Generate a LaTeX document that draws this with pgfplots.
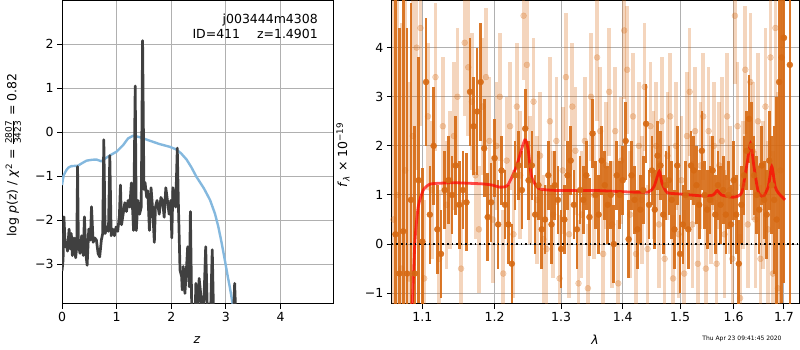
\documentclass[border=0pt]{standalone}
\usepackage{pgfplots}
\pgfplotsset{compat=1.18}
\usepackage{fontspec}
\setmainfont{DejaVu Sans}
\definecolor{dorange}{RGB}{214,105,18}
\definecolor{mblue}{RGB}{132,184,222}
\definecolor{gridc}{RGB}{176,176,176}
\newcommand\mf{\fontsize{12.5}{15}\selectfont}
\begin{document}
\begin{tikzpicture}[font=\mf]
\path[use as bounding box] (0pt,0pt) rectangle (800pt,350pt);
\pgfplotsset{myax/.style={scale only axis, anchor=south west, grid=major,
  grid style={gridc, line width=1pt}, axis line style={line width=1pt},
  tick align=outside, tick pos=left, major tick length=5pt,
  tick style={black, line width=1pt}, ticklabel style={font=\mf}}}
\begin{axis}[myax, at={(62pt,46pt)}, width=271pt, height=303pt,
  xmin=0, xmax=4.96, ymin=-3.9, ymax=2.98,
  xtick={0,1,2,3,4}, xticklabels={0,1,2,3,4},
  ytick={-3,-2,-1,0,1,2}, yticklabels={−3,−2,−1,0,1,2}]
\addplot[mblue, line width=2.4pt, line join=round] coordinates {
(0.0,-1.2) (0.03,-0.98) (0.08,-0.86) (0.12,-0.80) (0.17,-0.77) (0.29,-0.76) (0.37,-0.70) (0.45,-0.645)
(0.55,-0.625) (0.63,-0.62) (0.72,-0.66) (0.81,-0.58) (0.9,-0.51) (1.0,-0.44) (1.12,-0.29) (1.21,-0.14)
(1.30,-0.08) (1.42,-0.11) (1.60,-0.19) (1.79,-0.27) (1.97,-0.33) (2.09,-0.39) (2.18,-0.48) (2.28,-0.62)
(2.37,-0.80) (2.46,-1.01) (2.60,-1.28) (2.71,-1.54) (2.80,-1.85) (2.86,-2.14) (2.92,-2.5) (2.98,-2.90)
(3.03,-3.25) (3.07,-3.51) (3.13,-3.94) (3.18,-4.3)};
\addplot[black!75, line width=2.7pt, line join=round] coordinates {
(0.00,-3.15) (0.02,-2.9) (0.035,-1.92) (0.06,-2.6) (0.08,-2.5) (0.10,-2.7) (0.13,-2.2) (0.15,-2.65)
(0.17,-2.3) (0.19,-2.8) (0.22,-2.4) (0.25,-2.85) (0.27,-2.6) (0.285,-0.78) (0.30,-2.55) (0.33,-2.75)
(0.36,-2.35) (0.39,-2.8) (0.41,-1.92) (0.44,-2.8) (0.46,-3.02) (0.49,-2.2) (0.52,-2.45) (0.54,-1.69)
(0.57,-2.5) (0.60,-2.4) (0.63,-2.45) (0.66,-2.75) (0.69,-2.83) (0.72,-2.45) (0.745,-2.3) (0.765,-0.17)
(0.79,-2.3) (0.82,-2.15) (0.85,-2.25) (0.875,-0.53) (0.90,-2.35) (0.93,-2.2) (0.96,-2.35) (0.99,-2.15)
(1.02,-2.25) (1.05,-1.9) (1.07,-1.2) (1.09,-2.1) (1.12,-1.85) (1.15,-1.6) (1.18,-1.8) (1.21,-1.55)
(1.24,-1.7) (1.27,-1.15) (1.29,-1.7) (1.31,-2.23) (1.34,1.05) (1.36,-2.23) (1.39,-1.55) (1.42,-1.86)
(1.45,-1.7) (1.475,2.08) (1.50,-1.3) (1.52,-1.14) (1.55,-1.48) (1.57,-1.33) (1.60,-2.23) (1.63,-1.26)
(1.66,-1.77) (1.69,-2.5) (1.71,-1.7) (1.74,-1.55) (1.78,-1.86) (1.81,-1.48) (1.84,-1.55) (1.87,-1.93)
(1.90,-1.26) (1.93,-1.55) (1.96,-1.86) (1.99,-1.55) (2.01,-2.4) (2.03,-1.26) (2.06,-1.55) (2.08,-1.7)
(2.11,-0.36) (2.13,-1.62) (2.16,-3.13) (2.19,-3.28) (2.20,-3.58) (2.22,-3.05) (2.25,-3.66) (2.28,-3.05)
(2.30,-2.6) (2.33,-3.51) (2.35,-1.8) (2.38,-4.5) (2.43,-4.5) (2.45,-3.43) (2.48,-4.5) (2.51,-3.32)
(2.55,-3.8) (2.58,-4.5) (2.63,-2.6) (2.67,-4.5) (2.71,-4.5) (2.75,-2.67) (2.78,-4.5) (3.13,-4.5)
(3.16,-3.43) (3.19,-4.5)};
\end{axis}
\begin{axis}[myax, at={(391.7pt,46pt)}, width=407.6pt, height=303pt,
  xmode=log, xmin=1.0602, xmax=1.7316, ymin=-1.22, ymax=4.95,
  xtick={1.1,1.2,1.3,1.4,1.5,1.6,1.7}, xticklabels={1.1,1.2,1.3,1.4,1.5,1.6,1.7},
  minor xtick={},
  ytick={-1,0,1,2,3,4}, yticklabels={−1,0,1,2,3,4}]
\addplot[only marks, mark=*, mark size=3pt, color=dorange, opacity=0.28,
  mark options={draw opacity=0.28, fill opacity=0.28},
  error bars/.cd, y dir=both, y explicit, error mark=none,
  error bar style={line width=3.6pt, opacity=0.28}]
  table[x index=0, y index=1, y error index=2] {
1.0625 0.5 5
1.0675 1.0 5
1.0725 -0.5 5
1.0775 1.5 5
1.0825 -0.7 4
1.0875 2.2 3
1.0925 4.0 2.5
1.0975 4.4 2
1.1025 -0.7 1.6
1.1075 2.6 1.5
1.1125 1.1 1.4
1.1175 3.4 1.5
1.1225 -0.3 1.4
1.1275 2.4 1.4
1.1325 0.8 1.3
1.1375 1.3 1.4
1.1425 2.2 1.5
1.1475 3.0 1.4
1.1525 -0.5 1.4
1.1575 4.1 1.5
1.1625 3.6 1.4
1.1675 2.9 1.4
1.1725 1.4 1.3
1.1775 0.3 1.3
1.1825 2.8 1.4
1.1875 3.4 1.4
1.1925 2.1 1.3
1.1975 0.5 1.3
1.2025 2.0 1.3
1.2075 3.0 1.3
1.2125 -0.6 1.3
1.2175 1.7 1.3
1.2225 2.4 1.3
1.2275 0.2 1.3
1.2325 2.8 1.3
1.2375 1.4 1.3
1.2425 4.65 1.3
1.2475 3.65 1.3
1.2525 1.3 1.3
1.2575 2.9 1.3
1.2625 0.9 1.3
1.2675 1.8 1.3
1.2725 0.1 1.3
1.2775 -0.1 1.3
1.2825 2.5 1.3
1.2875 0.6 1.3
1.2925 2.1 1.3
1.2975 -0.7 1.3
1.3025 1.5 1.3
1.3075 3.4 1.3
1.3125 0.2 1.3
1.3175 2.8 1.3
1.3225 1.9 1.3
1.3275 -0.8 1.3
1.3325 0.6 1.3
1.3375 2.1 1.3
1.3425 -0.9 1.3
1.3475 3.0 1.3
1.3525 1.0 1.3
1.3575 3.8 1.3
1.3625 2.3 1.3
1.3675 -0.2 1.3
1.3725 1.6 1.3
1.3775 3.1 1.3
1.3825 0.4 1.3
1.3875 2.3 1.3
1.3925 -0.8 1.3
1.3975 1.7 1.3
1.4025 4.35 1.4
1.4075 3.55 1.3
1.4125 0.6 1.3
1.4175 2.6 1.3
1.4225 -0.2 1.3
1.4275 2.0 1.3
1.4325 0.9 1.3
1.4375 3.2 1.3
1.4425 -0.1 1.3
1.4475 2.4 1.3
1.4525 1.4 1.3
1.4575 2.0 1.3
1.4625 0.4 1.3
1.4675 2.5 1.3
1.4725 -0.3 1.3
1.4775 1.8 1.3
1.4825 2.6 1.3
1.4875 -0.7 1.3
1.4925 2.0 1.3
1.4975 0.2 1.3
1.5025 1.3 1.3
1.5075 -0.6 1.3
1.5125 2.2 1.3
1.5175 3.1 1.3
1.5225 0.4 1.3
1.5275 2.3 1.3
1.5325 -0.4 1.3
1.5375 1.6 1.3
1.5425 2.6 1.3
1.5475 -0.5 1.3
1.5525 2.3 1.3
1.5575 0.9 1.3
1.5625 2.0 1.3
1.5675 -0.4 1.3
1.5725 1.6 1.3
1.5775 2.1 1.3
1.5825 0.2 1.3
1.5875 2.6 1.3
1.5925 1.1 1.3
1.5975 -0.3 1.3
1.6025 4.65 1.4
1.6075 2.4 1.3
1.6125 -1.1 1.3
1.6175 1.2 1.3
1.6225 3.55 1.3
1.6275 0.4 1.3
1.6325 3.3 1.4
1.6375 1.9 1.4
1.6425 0.5 1.4
1.6475 2.5 1.4
1.6525 -0.3 1.5
1.6575 1.0 1.5
1.6625 2.8 1.6
1.6675 0.3 1.8
1.6725 3.8 2
1.6775 -0.6 2.5
1.6825 4.4 3
1.6875 -0.9 4
1.6925 1.5 5
1.6975 4.2 5
};
\addplot[only marks, mark=*, mark size=3pt, color=dorange, opacity=0.9,
  mark options={draw opacity=0.9, fill opacity=0.9},
  error bars/.cd, y dir=both, y explicit, error mark=none,
  error bar style={line width=2.6pt, opacity=0.9}]
  table[x index=0, y index=1, y error index=2] {
1.065 0.2 5
1.070 -0.6 5
1.075 0.26 5
1.080 -0.6 5
1.085 0.9 4
1.090 -0.6 3
1.095 1.3 2.5
1.100 0.05 1.5
1.105 3.3 1.3
1.110 0.6 1.0
1.115 2.0 1.2
1.120 0.3 0.9
1.125 -0.2 0.9
1.130 1.1 0.8
1.135 1.3 0.9
1.140 1.0 0.8
1.145 1.6 1.0
1.150 0.8 0.9
1.155 1.1 0.8
1.160 0.85 1.0
1.165 3.1 1.1
1.170 2.4 1.0
1.175 2.7 1.3
1.180 3.3 1.2
1.185 1.95 1.0
1.190 0.55 0.9
1.195 0.85 0.8
1.200 1.75 0.8
1.205 0.4 0.9
1.210 1.5 0.7
1.215 0.8 0.7
1.220 0.4 0.8
1.225 -0.4 0.8
1.230 1.4 0.7
1.235 1.6 0.7
1.240 1.1 0.8
1.245 2.35 0.8
1.250 1.3 0.8
1.255 1.6 0.7
1.260 0.6 0.8
1.265 1.2 0.7
1.270 0.3 0.8
1.275 0.5 0.7
1.280 1.4 0.7
1.285 0.4 0.8
1.290 1.2 0.7
1.295 0.9 0.7
1.300 -0.1 0.8
1.305 0.5 0.7
1.310 1.4 0.7
1.315 1.7 0.7
1.320 0.8 0.7
1.325 0.3 0.8
1.330 1.1 0.7
1.335 0.9 0.7
1.340 1.4 0.7
1.345 0.55 0.8
1.350 2.25 0.7
1.355 1.0 0.7
1.360 0.6 0.8
1.365 1.7 0.7
1.370 1.2 0.7
1.375 0.8 0.8
1.380 1.0 0.7
1.385 0.0 0.8
1.390 1.4 0.7
1.395 1.0 0.7
1.400 1.3 0.7
1.405 2.1 0.8
1.410 0.1 0.8
1.415 1.4 0.7
1.420 0.9 0.7
1.425 0.3 0.8
1.430 0.7 0.7
1.435 1.1 0.7
1.440 2.45 0.8
1.445 0.8 0.7
1.450 1.5 0.7
1.455 0.7 0.8
1.460 1.8 0.7
1.465 1.6 0.7
1.470 0.6 0.8
1.475 1.2 0.7
1.480 1.3 0.7
1.485 0.9 0.8
1.490 0.3 0.8
1.495 1.6 0.8
1.500 -0.2 0.8
1.505 0.4 0.8
1.510 1.0 0.7
1.515 0.3 0.8
1.520 1.6 0.7
1.525 1.5 0.7
1.530 1.2 0.8
1.535 0.8 0.7
1.540 1.9 0.8
1.545 1.0 0.7
1.550 0.7 0.8
1.555 0.9 0.7
1.560 1.5 0.7
1.565 0.6 0.8
1.570 1.2 0.7
1.575 0.8 0.8
1.580 1.1 0.7
1.585 0.6 0.8
1.590 1.0 0.7
1.595 0.4 0.8
1.600 1.3 0.8
1.605 0.6 0.8
1.610 -0.4 0.9
1.615 0.8 0.8
1.620 1.4 0.8
1.625 1.9 0.8
1.630 2.55 0.9
1.635 2.0 0.9
1.640 1.4 0.8
1.645 1.0 0.8
1.650 0.7 0.9
1.655 1.6 0.8
1.660 0.9 0.8
1.665 0.6 0.9
1.670 1.7 1.0
1.675 1.2 1.0
1.680 0.9 1.5
1.685 0.5 2.5
1.690 3.3 3
1.695 3.8 5
1.700 4.2 5
1.712 3.65 5
};
\addplot[red, opacity=0.7, line width=2.8pt, smooth, tension=0.4] coordinates {
(1.083,-2.5) (1.0868,-1.2) (1.0904,0.09) (1.0947,0.77) (1.1013,1.10) (1.110,1.22) (1.125,1.24)
(1.1413,1.25) (1.16,1.24) (1.1833,1.225) (1.197,1.2) (1.2071,1.16) (1.219,1.2) (1.2317,1.58)
(1.2443,2.12) (1.2494,1.92) (1.2545,1.37) (1.2647,1.14) (1.28,1.1) (1.3033,1.09) (1.357,1.09)
(1.413,1.06) (1.4437,1.06) (1.4538,1.17) (1.463,1.48) (1.4678,1.24) (1.477,1.05) (1.5,1.02)
(1.5427,0.98) (1.5612,1.0) (1.5687,1.09) (1.577,1.0) (1.599,0.955) (1.6153,1.04) (1.6251,1.58)
(1.633,2.05) (1.6396,1.58) (1.648,1.07) (1.658,0.97) (1.668,1.17) (1.675,1.58) (1.682,1.17)
(1.6885,1.04) (1.702,0.90)};
\addplot[black, line width=1.6pt, dash pattern=on 1.6pt off 3pt] coordinates {(1.0602,0) (1.7316,0)};
\end{axis}
\node[rotate=90] at (13pt,195pt) {log \textit{p}(z) / \textit{χ}\textsuperscript{2} = $\frac{\mbox{\fontsize{9}{10}\selectfont 2807}}{\mbox{\fontsize{9}{10}\selectfont 3423}}$ = 0.82};
\node[rotate=90] at (343pt,195pt) {\textit{f}\textsubscript{\textit{λ}} × 10\textsuperscript{−19}};
\node at (197pt,10pt) {\textit{z}};
\node at (595pt,10pt) {\textit{λ}};
\node[anchor=east, inner sep=0pt] at (318pt,330pt) {j003444m4308};
\node[anchor=east, inner sep=0pt] at (318pt,315.7pt) {ID=411\hspace{1.35em}z=1.4901};
\node[inner sep=0pt] at (742pt,10.7pt) {\fontsize{6}{7}\selectfont Thu Apr 23 09:41:45 2020};
\end{tikzpicture}
\end{document}
